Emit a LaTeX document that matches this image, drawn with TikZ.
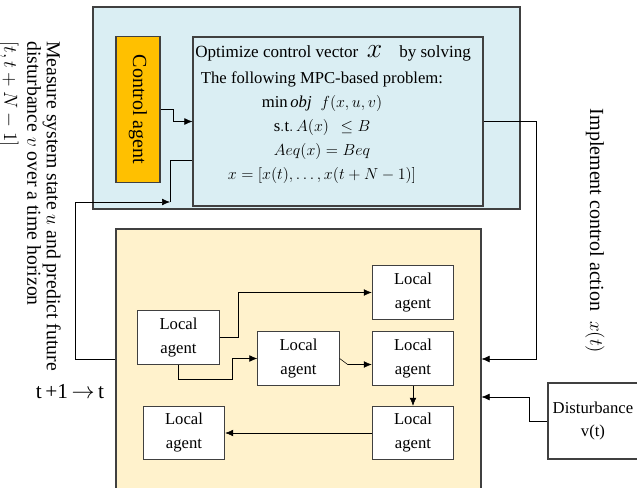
\documentclass[tikz,border=0pt]{standalone}
\usepackage{amsmath}
\usepackage{amssymb}
\usepackage{fontspec}
\setmainfont{Liberation Serif}
\usepackage{tikz}
\usepackage{xcolor}
\usetikzlibrary{calc,arrows.meta}

\definecolor{paleblue}{HTML}{DAEEF3}
\definecolor{paleyellow}{HTML}{FFF2CC}
\definecolor{agentorange}{HTML}{FFC000}
\definecolor{edgegray}{HTML}{404040}

\begin{document}
\begin{tikzpicture}[x=0.75pt,y=-0.75pt,>={Latex[length=6pt,width=5pt]}]
        \tikzstyle{every node}=[inner sep=0pt, font=\fontsize{12.5}{17}\selectfont]
        \tikzstyle{frame}=[draw=edgegray, line width=0.8pt]
        \tikzstyle{agent}=[frame, fill=white, minimum width=61pt, minimum height=40pt, align=center, font=\fontsize{12.5}{18}\selectfont]
        \useasboundingbox (0,0) rectangle (637,487);

        \node[frame, fill=paleblue, minimum width=320.25pt, minimum height=151.5pt] (11) at (306.5,108) {};
        \node[frame, fill=agentorange, minimum width=33pt, minimum height=110pt, font=\fontsize{15}{18}\selectfont] (12) at (138,109.5) {\rotatebox{-90}{Control agent}};
        \node[frame, fill=paleblue, minimum width=217.5pt, minimum height=126.75pt] (13) at (338,121.5) {};
        \node[anchor=west, font=\fontsize{12.8}{17}\selectfont] (22) at (195,53) {Optimize control vector \ {\fontsize{20}{20}\selectfont$x$}\quad by solving};
        \node[align=center, font=\fontsize{12.5}{18}\selectfont] (23) at (322,128) {The following MPC-based problem:\\
                $\min\mathit{obj}\;\; f(x,u,v)$\\
                $\mathrm{s.t.}\,A(x)\;\,\leq B$\\
                $Aeq(x)=Beq$\\
                $x=[x(t),\dots,x(t+N-1)]$};

        \node[frame, fill=paleyellow, minimum width=273.75pt, minimum height=195pt] (14) at (298.5,359) {};
        \node[agent] (15) at (178.5,337.5) {Local\\agent};
        \node[agent] (16) at (298.5,358.5) {Local\\agent};
        \node[agent] (17) at (413,292.5) {Local\\agent};
        \node[agent] (18) at (413,358.5) {Local\\agent};
        \node[agent] (19) at (413,433) {Local\\agent};
        \node[agent] (20) at (184,433) {Local\\agent};
        \node[frame, fill=white, minimum width=67.5pt, minimum height=57pt, align=center] (21) at (593,421) {Disturbance\\v(t)};

        \node[rotate=-90, align=left, font=\fontsize{14.8}{14.5}\selectfont] (25) at (30,206) {Measure system state $u$ and predict future\\disturbance $v$ over a time horizon\\[3pt]$[t, t+N-1]$};
        \node[rotate=-90, font=\fontsize{15}{18}\selectfont] (26) at (595,231) {Implement control action \ $x(t)$};
        \node[font=\fontsize{16}{18}\selectfont] (27) at (70,392) {t\,+1\,$\rightarrow$\,t};

        \coordinate (24) at (170,202);
        \draw[->] (12.east) -- ++(13,0) |- (13.west);
        \draw[->] (14.west) -| (75,202) -- (24);
        \draw (24) |- (13.west |- 0,160);
        \draw[->] (13.east) -| (536,359) -- (14.east);
        \draw[->] (21.west) -- ++(-18,0) |- (14.east |- 0,397);

        \draw[->] (15.east) -- ++(19,0) |- (17.west);
        \draw[->] (15.south) |- (232,379) |- (16.west);
        \draw[->] (16.east) -- ++(8,6) -- ($(18.west)+(0,6)$);
        \draw[->] (18.south) -- (19.north);
        \draw[->] (19.west) -- (20.east);
\end{tikzpicture}
\end{document}
